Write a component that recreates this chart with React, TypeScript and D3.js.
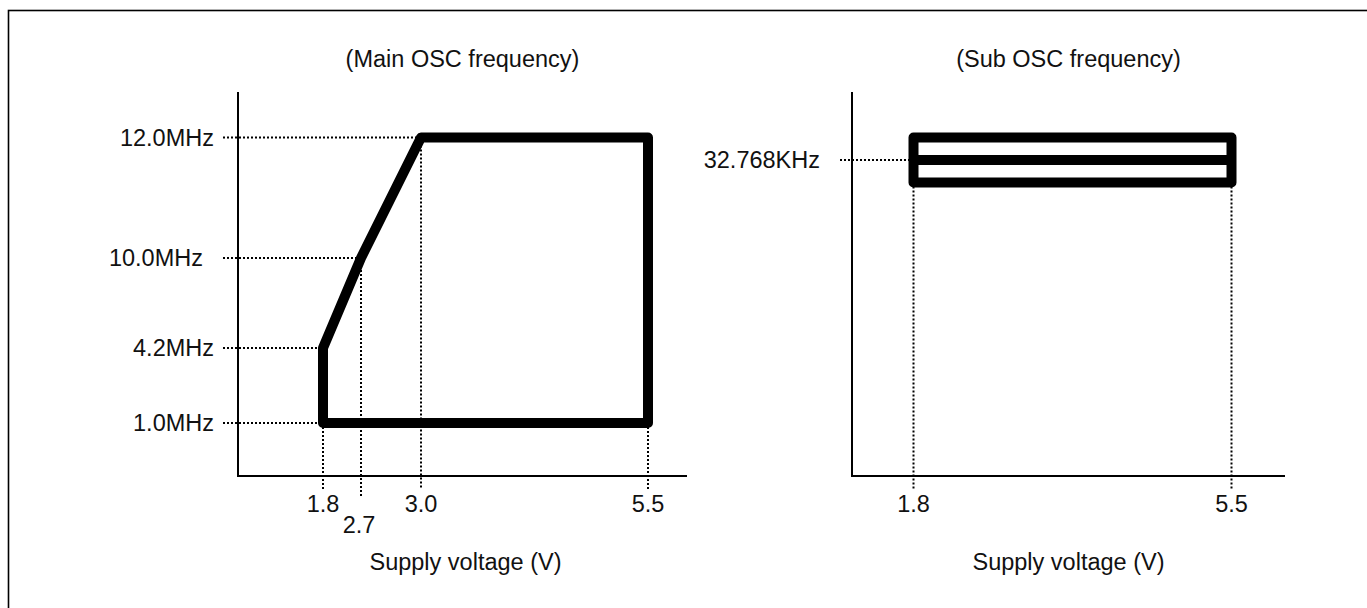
import React from "react";
import * as d3 from "d3";

// ---- data ----
const mainVolts = [1.8, 2.7, 3.0, 5.5];
const mainVoltLabels = ["1.8", "2.7", "3.0", "5.5"];
const mainFreqs = [1.0, 4.2, 10.0, 12.0];
const mainFreqLabels = ["1.0MHz", "4.2MHz", "10.0MHz", "12.0MHz"];
const mainBoundaryV = [1.8, 1.8, 2.7, 3.0, 5.5, 5.5];
const mainBoundaryF = [1.0, 4.2, 10.0, 12.0, 12.0, 1.0];
// where each frequency guide meets the boundary (voltage)
const mainFreqGuideV = [1.8, 1.8, 2.7, 3.0];
// where each voltage guide starts (frequency)
const mainVoltGuideF = [1.0, 10.0, 12.0, 1.0];

const subVolts = [1.8, 5.5];
const subVoltLabels = ["1.8", "5.5"];
const subLevels = ["max", "32.768KHz", "min"];
const subFreqLabel = "32.768KHz";

const titles = ["(Main OSC frequency)", "(Sub OSC frequency)"];
const xTitle = "Supply voltage (V)";

const FONT = "'Liberation Sans', Arial, Helvetica, sans-serif";
const FS = 23.5;

export default function App() {
  // left panel scales (schematic, piecewise linear)
  const xL = d3.scaleLinear().domain(mainVolts).range([323, 361, 421, 648]);
  const yL = d3.scaleLinear().domain(mainFreqs).range([423, 348, 258, 137.5]);
  const axL = { x0: 238, x1: 687, y0: 92, y1: 476 };

  // right panel scales
  const xR = d3.scaleLinear().domain(subVolts).range([913.5, 1231.5]);
  const yR = d3.scalePoint<string>().domain(subLevels).range([137.5, 182.5]);
  const axR = { x0: 852, x1: 1285, y0: 92, y1: 476 };

  const line = d3
    .line<number>()
    .x((_, i) => xL(mainBoundaryV[i]))
    .y((_, i) => yL(mainBoundaryF[i]))
    .curve(d3.curveLinearClosed);
  const polyPath = line(mainBoundaryV.map((_, i) => i)) || "";

  const rx0 = xR(subVolts[0]);
  const rx1 = xR(subVolts[1]);
  const rTop = yR("max")!;
  const rMid = yR(subFreqLabel)!;
  const rBot = yR("min")!;
  const subPath = `M${rx0},${rTop}H${rx1}V${rBot}H${rx0}Z M${rx0},${rMid}H${rx1}`;

  const dot = { stroke: "#000", strokeWidth: 2, strokeDasharray: "2,2", fill: "none" };
  const axisStyle = { stroke: "#000", strokeWidth: 2, fill: "none" };
  const textStyle: React.CSSProperties = { fontFamily: FONT, fontSize: FS, fill: "#111" };

  return (
    <svg
      width={1367}
      height={608}
      style={{ position: "absolute", left: 0, top: 0, display: "block", background: "#fff" }}
    >
      <rect x={8.5} y={10.5} width={1400} height={700} fill="#fff" stroke="#000" strokeWidth={1.6} />

      {/* ---------- left panel ---------- */}
      <text x={(axL.x0 + axL.x1) / 2} y={67} textAnchor="middle" style={textStyle}>
        {titles[0]}
      </text>

      {/* horizontal guides */}
      {mainFreqs.map((f, i) => (
        <line key={"hg" + i} x1={223} x2={xL(mainFreqGuideV[i])} y1={yL(f)} y2={yL(f)} {...dot} />
      ))}
      {/* vertical guides */}
      {mainVolts.map((v, i) => (
        <line
          key={"vg" + i}
          x1={xL(v)}
          x2={xL(v)}
          y1={yL(mainVoltGuideF[i])}
          y2={mainVoltLabels[i] === "2.7" ? 497 : 489}
          {...dot}
        />
      ))}

      {/* axes */}
      <line x1={axL.x0} x2={axL.x0} y1={axL.y0} y2={axL.y1 + 1} {...axisStyle} />
      <line x1={axL.x0} x2={axL.x1} y1={axL.y1} y2={axL.y1} {...axisStyle} />

      {/* boundary */}
      <path d={polyPath} fill="none" stroke="#000" strokeWidth={10} strokeLinejoin="round" />

      {/* y labels */}
      {mainFreqs.map((f, i) => (
        <text
          key={"yl" + i}
          x={mainFreqLabels[i] === "10.0MHz" ? 203 : 214}
          y={yL(f) + 8}
          textAnchor="end"
          style={textStyle}
        >
          {mainFreqLabels[i]}
        </text>
      ))}
      {/* x labels */}
      {mainVolts.map((v, i) => (
        <text
          key={"xl" + i}
          x={xL(v) - (mainVoltLabels[i] === "2.7" ? 2 : 0)}
          y={mainVoltLabels[i] === "2.7" ? 533 : 512}
          textAnchor="middle"
          style={textStyle}
        >
          {mainVoltLabels[i]}
        </text>
      ))}
      <text x={(axL.x0 + axL.x1) / 2 + 3} y={570} textAnchor="middle" style={textStyle}>
        {xTitle}
      </text>

      {/* ---------- right panel ---------- */}
      <text x={(axR.x0 + axR.x1) / 2} y={67} textAnchor="middle" style={textStyle}>
        {titles[1]}
      </text>
      <line x1={840} x2={rx0} y1={rMid} y2={rMid} {...dot} />
      {subVolts.map((v, i) => (
        <line key={"svg" + i} x1={xR(v)} x2={xR(v)} y1={rBot} y2={490} {...dot} />
      ))}
      <line x1={axR.x0} x2={axR.x0} y1={axR.y0} y2={axR.y1 + 1} {...axisStyle} />
      <line x1={axR.x0} x2={axR.x1} y1={axR.y1} y2={axR.y1} {...axisStyle} />
      <path d={subPath} fill="none" stroke="#000" strokeWidth={10} strokeLinejoin="round" />
      <text x={820} y={rMid + 8} textAnchor="end" style={textStyle}>
        {subFreqLabel}
      </text>
      {subVolts.map((v, i) => (
        <text key={"sxl" + i} x={xR(v)} y={512} textAnchor="middle" style={textStyle}>
          {subVoltLabels[i]}
        </text>
      ))}
      <text x={(axR.x0 + axR.x1) / 2} y={570} textAnchor="middle" style={textStyle}>
        {xTitle}
      </text>
    </svg>
  );
}
